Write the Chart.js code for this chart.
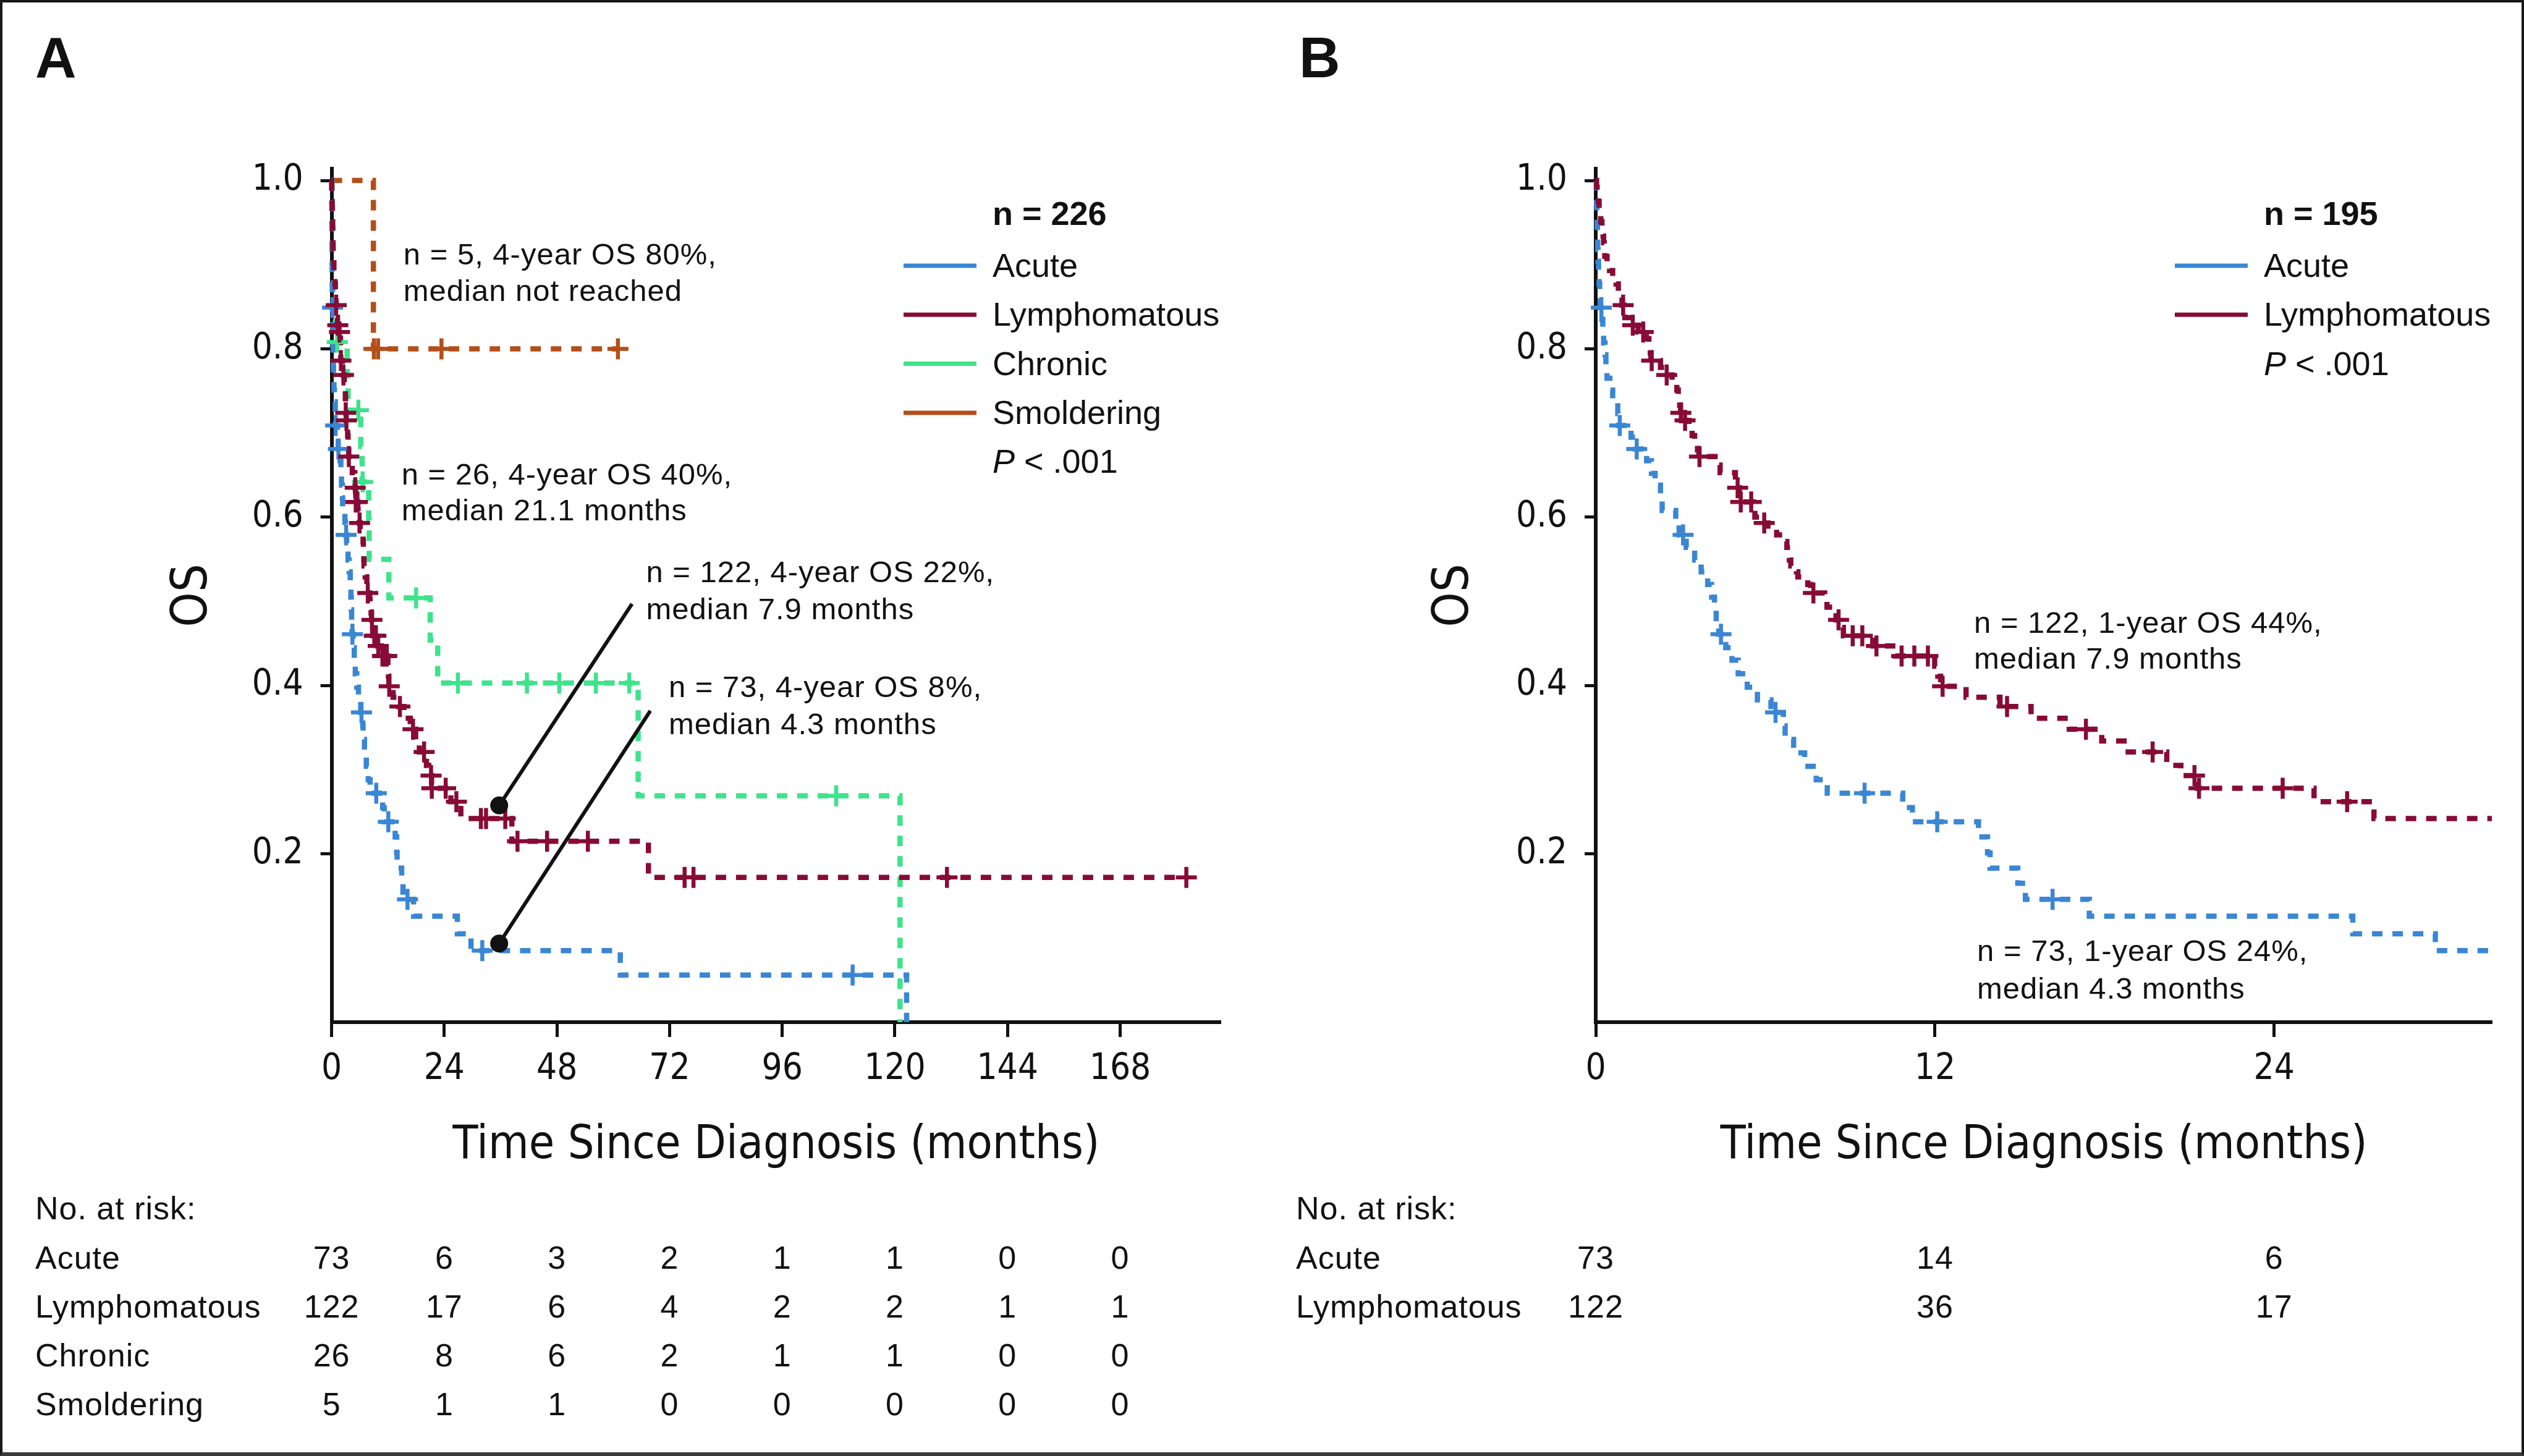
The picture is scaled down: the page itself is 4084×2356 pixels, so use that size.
<!DOCTYPE html>
<html>
<head>
<meta charset="utf-8">
<title>OS by ATL subtype</title>
<script src="https://cdn.jsdelivr.net/npm/chart.js@4.4.1/dist/chart.umd.min.js"></script>
<style>
  html, body { margin: 0; padding: 0; background: #fff; }
  #fig { position: relative; width: 4084px; height: 2356px; overflow: hidden; background: #fff; }
  #fig canvas { position: absolute; top: 0; }
  #panelA { left: 0; }
  #panelB { left: 2042px; }
  #frame { position: absolute; left: 0; top: 0; right: 0; bottom: 0; box-sizing: border-box;
           border: 4px solid #1a1a1a; border-bottom: 6px solid #3a3a3a; pointer-events: none; }
</style>
</head>
<body>
<div id="fig">
  <canvas id="panelA" width="2042" height="2356"></canvas>
  <canvas id="panelB" width="2042" height="2356"></canvas>
  <div id="frame"></div>
</div>
<script>
// ---- values ----
const xTicksA = [0, 24, 48, 72, 96, 120, 144, 168];
const xTickLabelsA = ['0', '24', '48', '72', '96', '120', '144', '168'];
const xTicksB = [0, 12, 24];
const xTickLabelsB = ['0', '12', '24'];
const yTicks = [0.2, 0.4, 0.6, 0.8, 1.0];
const yTickLabels = ['0.2', '0.4', '0.6', '0.8', '1.0'];

// Acute (n = 73): event times (months) and survival after each step
const acuteTimes = [0.02, 0.03, 0.04, 0.05, 0.06, 0.07, 0.08, 0.10, 0.12, 0.14, 0.16,
  0.22, 0.25, 0.28, 0.33, 0.36, 0.40, 0.50, 0.60, 0.78, 0.81,
  1.25, 1.40,
  1.80, 1.97, 2.10, 2.29, 2.35, 2.83, 2.95,
  3.20, 3.50, 3.73, 3.96, 4.10, 4.20, 4.26, 4.35,
  4.60, 4.82, 5.04, 5.36, 5.72, 6.20,
  6.64, 6.70, 7.00, 7.39, 7.80, 8.19,
  10.86, 11.20,
  13.54, 13.86, 13.95, 14.93, 15.20,
  17.46, 26.78, 29.70,
  61.5, 122.5];
const acuteSurv = [0.986, 0.973, 0.959, 0.945, 0.932, 0.918, 0.904, 0.890, 0.877, 0.863, 0.849,
  0.835, 0.821, 0.807, 0.793, 0.779, 0.765, 0.751, 0.737, 0.723, 0.709,
  0.695, 0.681,
  0.667, 0.652, 0.638, 0.623, 0.608, 0.594, 0.579,
  0.564, 0.549, 0.535, 0.520, 0.505, 0.490, 0.475, 0.461,
  0.445, 0.430, 0.414, 0.398, 0.383, 0.368,
  0.352, 0.336, 0.320, 0.304, 0.288, 0.272,
  0.255, 0.238,
  0.220, 0.201, 0.183, 0.165, 0.146,
  0.126, 0.105, 0.085,
  0.056, 0];
const acuteCensor = [0.20, 0.85, 1.45, 3.09, 4.43, 6.36, 9.51, 12.08, 16.16, 32.1, 111];

// Lymphomatous (n = 122)
const lymphTimes = [0.03, 0.05, 0.09, 0.12, 0.15, 0.18, 0.22, 0.26, 0.28, 0.30, 0.32, 0.40, 0.49, 0.60, 0.72, 0.80, 0.88, 0.93,
  1.00, 1.03, 1.25, 1.50,
  1.79, 1.88, 1.93, 1.95, 2.29, 2.45,
  2.70, 2.87, 2.92, 2.97, 3.00, 3.10,
  3.30, 3.41, 3.50, 3.60, 3.65,
  4.36, 4.40, 4.94, 5.00, 5.08, 5.11,
  5.58, 5.63, 5.90,
  6.09, 6.40, 6.70, 6.76, 6.78, 6.85, 6.90, 7.10, 7.15, 7.50, 7.60,
  8.10, 8.18, 8.40, 8.50, 8.70, 8.76, 9.80, 10.60,
  11.99, 12.10, 12.20, 13.10, 14.30, 15.40, 16.75,
  17.90, 18.69, 20.20, 20.70, 21.29, 25.41, 27.53, 38.4, 67.5];
const lymphSurv = [0.992, 0.984, 0.975, 0.967, 0.959, 0.951, 0.943, 0.934, 0.926, 0.918, 0.910, 0.902, 0.893, 0.885, 0.877, 0.869, 0.861, 0.852,
  0.845, 0.837, 0.828, 0.820,
  0.812, 0.803, 0.795, 0.786, 0.778, 0.769,
  0.760, 0.751, 0.742, 0.733, 0.724, 0.715,
  0.706, 0.697, 0.688, 0.680, 0.672,
  0.662, 0.653, 0.644, 0.635, 0.626, 0.618,
  0.609, 0.600, 0.593,
  0.586, 0.579, 0.571, 0.564, 0.557, 0.549, 0.542, 0.535, 0.529, 0.520, 0.510,
  0.502, 0.493, 0.486, 0.478, 0.469, 0.459, 0.447, 0.435,
  0.423, 0.411, 0.399, 0.386, 0.375, 0.361, 0.348,
  0.334, 0.321, 0.305, 0.293, 0.278, 0.262, 0.242, 0.215, 0.172];
const lymphCensor = [0.97, 1.31, 1.68, 1.98, 2.51, 3.01, 3.16, 3.67, 5.02, 5.13, 5.50, 5.96, 7.70, 8.59,
  9.09, 9.43, 9.93, 10.82, 11.27, 11.75, 12.27, 14.55, 17.34, 19.70, 21.18, 21.34, 24.30, 26.58,
  31.8, 32.9, 37.0, 39.6, 45.9, 54.6, 75.2, 77.1, 131.1, 182.1];

// Chronic (n = 26)
const chronicTimes = [0.10, 0.20, 0.35, 0.50, 0.80, 3.30, 3.50, 6.20, 6.50, 7.90, 8.00, 12.20, 21.0, 22.6, 65.3, 121.1];
const chronicSurv = [0.962, 0.923, 0.885, 0.846, 0.808, 0.768, 0.727, 0.684, 0.642, 0.596, 0.550, 0.504, 0.454, 0.403, 0.269, 0];
const chronicCensor = [1.2, 5.7, 6.6, 18.0, 26.9, 41.6, 48.5, 56.3, 63.4, 107.5];

// Smoldering (n = 5)
const smolderTimes = [8.9];
const smolderSurv = [0.8];
const smolderCensor = [9.0, 9.9, 23.4, 61.0];

// Numbers at risk
const riskAcuteA = [73, 6, 3, 2, 1, 1, 0, 0];
const riskLymphA = [122, 17, 6, 4, 2, 2, 1, 1];
const riskChronicA = [26, 8, 6, 2, 1, 1, 0, 0];
const riskSmolderA = [5, 1, 1, 0, 0, 0, 0, 0];
const riskAcuteB = [73, 14, 6];
const riskLymphB = [122, 36, 17];

// ---- look ----
const SANS = '"Liberation Sans", Arial, Helvetica, sans-serif';
const NARROW = '"DejaVu Sans Condensed", "DejaVu Sans", sans-serif';
const INK = '#111111';
const C_ACUTE = '#3a86d4';
const C_LYMPH = '#870b36';
const C_CHRONIC = '#3ee38b';
const C_SMOLD = '#b44e18';

Chart.defaults.font.family = SANS;
Chart.defaults.color = INK;

function survAt(times, surv, t) {
  let s = 1;
  for (let i = 0; i < times.length; i++) if (times[i] <= t) s = surv[i];
  return s;
}

function kmSteps(times, surv, censor) {
  const pts = [{ x: 0, y: 1 }];
  times.forEach((t, i) => pts.push({ x: t, y: surv[i] }));
  const lastC = censor[censor.length - 1];
  if (lastC > times[times.length - 1]) pts.push({ x: lastC, y: surv[surv.length - 1] });
  return pts;
}

function curve(label, color, times, surv, censor) {
  return {
    label, data: kmSteps(times, surv, censor),
    borderColor: color, borderWidth: 8.5, borderDash: [17, 16],
    stepped: true, pointRadius: 0, fill: false
  };
}

function ticks(label, color, times, surv, censor, xMax) {
  return {
    label: label + ' censored',
    data: censor.filter(t => t <= xMax).map(t => ({ x: t, y: survAt(times, surv, t) })),
    showLine: false, pointStyle: 'cross', pointRadius: 17,
    pointBorderWidth: 6.5, pointBorderColor: color, borderColor: color
  };
}

function leader(l) {
  return {
    label: 'leader',
    data: [{ x: l[0], y: l[1] }, { x: l[2], y: l[3] }],
    borderColor: INK, borderWidth: 6, borderDash: [],
    pointRadius: [14.5, 0], pointBackgroundColor: INK, pointBorderWidth: 0
  };
}

// all the text that is not an axis: panel letter, legend, notes, risk table
function textPlugin(cfg) {
  return {
    id: 'kmText',
    afterDraw(chart) {
      const { ctx, chartArea: ca, scales: { x, y } } = chart;
      ctx.save();
      ctx.fillStyle = INK;
      ctx.textBaseline = 'alphabetic';
      ctx.textAlign = 'left';

      ctx.font = `bold 92px ${SANS}`;
      ctx.fillText(cfg.letter, cfg.letterX, 125);

      // legend, hung off the top right corner of the plot
      const lx = ca.right - 369;
      ctx.font = `bold 54px ${SANS}`;
      ctx.fillText(cfg.nLabel, lx, ca.top + 91);
      ctx.font = `54px ${SANS}`;
      cfg.groups.forEach((g, i) => {
        const by = ca.top + 175 + i * 79.3;
        ctx.strokeStyle = g.color;
        ctx.lineWidth = 7;
        ctx.beginPath();
        ctx.moveTo(ca.right - 513, by - 18);
        ctx.lineTo(ca.right - 395, by - 18);
        ctx.stroke();
        ctx.fillText(g.name, lx, by);
      });
      const py = ca.top + 175 + cfg.groups.length * 79.3;
      ctx.font = `italic 54px ${SANS}`;
      ctx.fillText('P', lx, py);
      const pw = ctx.measureText('P').width;
      ctx.font = `54px ${SANS}`;
      ctx.fillText(' < .001', lx + pw, py);

      // notes next to the curves
      ctx.letterSpacing = '1px';
      ctx.font = `49px ${SANS}`;
      cfg.notes.forEach(n => {
        const px = x.getPixelForValue(n.t);
        n.lines.forEach((line, i) => ctx.fillText(line, px, y.getPixelForValue(n.s[i])));
      });

      // numbers at risk, one column per x tick
      ctx.font = `52px ${SANS}`;
      ctx.fillText('No. at risk:', cfg.tableX, 1973);
      cfg.risk.forEach((r, i) => {
        const by = 2053 + i * 79;
        ctx.textAlign = 'left';
        ctx.fillText(r.name, cfg.tableX, by);
        ctx.textAlign = 'center';
        r.counts.forEach((c, j) => ctx.fillText(String(c), x.getPixelForValue(cfg.riskTimes[j]), by));
      });
      ctx.restore();
    }
  };
}

function axes(xMax, xTicks, xLabels, yWidth, osPad) {
  return {
    x: {
      type: 'linear', min: 0, max: xMax,
      afterBuildTicks: s => { s.ticks = xTicks.map(v => ({ value: v })); },
      afterFit: s => { s.height = 260; },
      ticks: { callback: (v, i) => xLabels[i], font: { family: NARROW, size: 58 }, color: INK,
               padding: 18, maxRotation: 0, minRotation: 0, autoSkip: false, includeBounds: false },
      grid: { drawOnChartArea: false, drawTicks: true, tickLength: 24, tickWidth: 5, tickColor: INK, color: INK },
      border: { display: true, color: INK, width: 6 },
      title: { display: true, text: 'Time Since Diagnosis (months)', color: INK,
               font: { family: NARROW, size: 75 }, padding: { top: 0, bottom: 14 } }
    },
    y: {
      type: 'linear', min: 0, max: 1.014,
      afterBuildTicks: s => { s.ticks = yTicks.map(v => ({ value: v })); },
      afterFit: s => { s.width = yWidth; },
      ticks: { callback: (v, i) => yTickLabels[i], font: { family: NARROW, size: 58 }, color: INK,
               padding: 28, autoSkip: false, includeBounds: false },
      grid: { drawOnChartArea: false, drawTicks: true, tickLength: 18, tickWidth: 5, tickColor: INK, color: INK },
      border: { display: true, color: INK, width: 6 },
      title: { display: true, text: 'OS', color: INK,
               font: { family: NARROW, size: 80 }, padding: { top: osPad, bottom: 0 } }
    }
  };
}

// ---- panel A ----
const xMaxA = 189.4;
new Chart(document.getElementById('panelA'), {
  type: 'line',
  data: {
    datasets: [
      leader([35.7, 0.2575, 64.0, 0.497]),
      leader([35.7, 0.0935, 67.9, 0.37]),
      ticks('Lymphomatous', C_LYMPH, lymphTimes, lymphSurv, lymphCensor, xMaxA),
      ticks('Acute', C_ACUTE, acuteTimes, acuteSurv, acuteCensor, xMaxA),
      ticks('Chronic', C_CHRONIC, chronicTimes, chronicSurv, chronicCensor, xMaxA),
      ticks('Smoldering', C_SMOLD, smolderTimes, smolderSurv, smolderCensor, xMaxA),
      curve('Lymphomatous', C_LYMPH, lymphTimes, lymphSurv, lymphCensor),
      curve('Acute', C_ACUTE, acuteTimes, acuteSurv, acuteCensor),
      curve('Chronic', C_CHRONIC, chronicTimes, chronicSurv, chronicCensor),
      curve('Smoldering', C_SMOLD, smolderTimes, smolderSurv, smolderCensor)
    ].map(d => Object.assign(d, { clip: 40 }))
  },
  options: {
    responsive: false, animation: false, events: [],
    layout: { padding: { left: 0, right: 67, top: 273, bottom: 442 } },
    plugins: { legend: { display: false }, tooltip: { enabled: false } },
    scales: axes(xMaxA, xTicksA, xTickLabelsA, 536.6, 265)
  },
  plugins: [textPlugin({
    letter: 'A', letterX: 57, nLabel: 'n = 226',
    groups: [
      { name: 'Acute', color: C_ACUTE },
      { name: 'Lymphomatous', color: C_LYMPH },
      { name: 'Chronic', color: C_CHRONIC },
      { name: 'Smoldering', color: C_SMOLD }
    ],
    notes: [
      { t: 15.3, s: [0.900, 0.857], lines: ['n = 5, 4-year OS 80%,', 'median not reached'] },
      { t: 14.9, s: [0.639, 0.596], lines: ['n = 26, 4-year OS 40%,', 'median 21.1 months'] },
      { t: 67.0, s: [0.523, 0.479], lines: ['n = 122, 4-year OS 22%,', 'median 7.9 months'] },
      { t: 71.8, s: [0.386, 0.342], lines: ['n = 73, 4-year OS 8%,', 'median 4.3 months'] }
    ],
    tableX: 57, riskTimes: xTicksA,
    risk: [
      { name: 'Acute', counts: riskAcuteA },
      { name: 'Lymphomatous', counts: riskLymphA },
      { name: 'Chronic', counts: riskChronicA },
      { name: 'Smoldering', counts: riskSmolderA }
    ]
  })]
});

// ---- panel B: first 31 months, acute vs lymphomatous ----
const xMaxB = 31.7;
new Chart(document.getElementById('panelB'), {
  type: 'line',
  data: {
    datasets: [
      ticks('Lymphomatous', C_LYMPH, lymphTimes, lymphSurv, lymphCensor, xMaxB),
      ticks('Acute', C_ACUTE, acuteTimes, acuteSurv, acuteCensor, xMaxB),
      curve('Lymphomatous', C_LYMPH, lymphTimes, lymphSurv, lymphCensor),
      curve('Acute', C_ACUTE, acuteTimes, acuteSurv, acuteCensor)
    ].map(d => Object.assign(d, { clip: { left: 40, top: 40, right: 0, bottom: 40 } }))
  },
  options: {
    responsive: false, animation: false, events: [],
    layout: { padding: { left: 0, right: 52, top: 273, bottom: 442 } },
    plugins: { legend: { display: false }, tooltip: { enabled: false } },
    scales: axes(xMaxB, xTicksB, xTickLabelsB, 540, 264)
  },
  plugins: [textPlugin({
    letter: 'B', letterX: 60, nLabel: 'n = 195',
    groups: [
      { name: 'Acute', color: C_ACUTE },
      { name: 'Lymphomatous', color: C_LYMPH }
    ],
    notes: [
      { t: 13.38, s: [0.4626, 0.420], lines: ['n = 122, 1-year OS 44%,', 'median 7.9 months'] },
      { t: 13.49, s: [0.0727, 0.0282], lines: ['n = 73, 1-year OS 24%,', 'median 4.3 months'] }
    ],
    tableX: 55, riskTimes: xTicksB,
    risk: [
      { name: 'Acute', counts: riskAcuteB },
      { name: 'Lymphomatous', counts: riskLymphB }
    ]
  })]
});
</script>
</body>
</html>
